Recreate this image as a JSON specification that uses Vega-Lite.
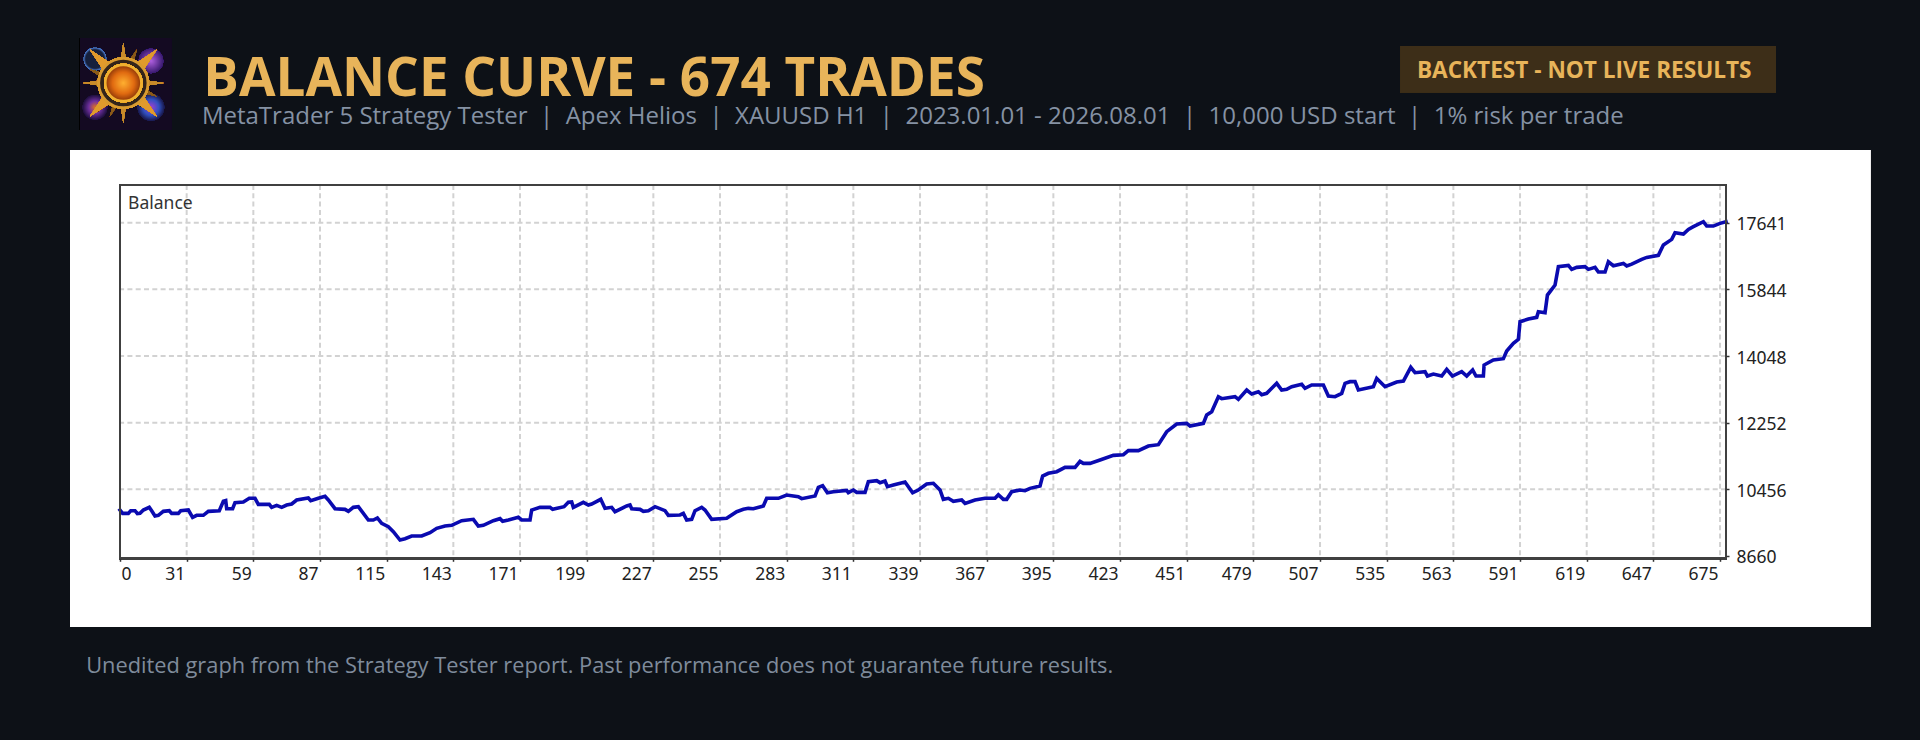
{
  "$schema": "https://vega.github.io/schema/vega-lite/v6.json",
  "width": 1606,
  "height": 373.3,
  "autosize": "none",
  "padding": {"left": 120, "top": 185, "right": 194, "bottom": 181.7},
  "background": "#0d1117",
  "config": {
    "axis": {
      "title": null,
      "grid": false,
      "domain": false,
      "format": "d",
      "labelOverlap": false,
      "labelBound": false,
      "labelFlush": false,
      "labelFont": "Noto Sans",
      "labelFontSize": 17.5,
      "labelColor": "#222222",
      "tickColor": "#333333",
      "tickSize": 3,
      "tickWidth": 1.5
    }
  },
  "datasets": {
    "balance": [
      {"trade":3,"balance":9899},{"trade":4.1,"balance":9809},{"trade":6.5,"balance":9809},{"trade":7.5,"balance":9881},{"trade":9.3,"balance":9881},{"trade":10.3,"balance":9800},{"trade":11.4,"balance":9809},{"trade":12.8,"balance":9899},{"trade":15.3,"balance":9971},{"trade":16.3,"balance":9881},{"trade":17.7,"balance":9738},{"trade":19.1,"balance":9756},{"trade":21.2,"balance":9863},{"trade":23.7,"balance":9881},{"trade":24.7,"balance":9809},{"trade":27.5,"balance":9809},{"trade":28.5,"balance":9881},{"trade":31.7,"balance":9899},{"trade":33.5,"balance":9702},{"trade":35.2,"balance":9756},{"trade":38,"balance":9756},{"trade":40.1,"balance":9863},{"trade":44.7,"balance":9881},{"trade":46.4,"balance":10133},{"trade":47.4,"balance":10151},{"trade":47.8,"balance":9935},{"trade":50.3,"balance":9935},{"trade":51.3,"balance":10097},{"trade":54.8,"balance":10115},{"trade":57.3,"balance":10214},{"trade":59.7,"balance":10214},{"trade":61.1,"balance":10052},{"trade":65.7,"balance":10052},{"trade":66.7,"balance":9971},{"trade":68.8,"balance":10025},{"trade":70.9,"balance":9971},{"trade":73,"balance":10034},{"trade":75.1,"balance":10061},{"trade":77.2,"balance":10169},{"trade":82.1,"balance":10223},{"trade":83.1,"balance":10151},{"trade":86.3,"balance":10214},{"trade":89.1,"balance":10267},{"trade":90.5,"balance":10169},{"trade":93.3,"balance":9935},{"trade":97.5,"balance":9917},{"trade":98.9,"balance":9863},{"trade":101,"balance":9971},{"trade":103.1,"balance":9989},{"trade":107.3,"balance":9630},{"trade":109.4,"balance":9630},{"trade":111.1,"balance":9684},{"trade":112.9,"balance":9540},{"trade":115.7,"balance":9450},{"trade":117.8,"balance":9316},{"trade":120.6,"balance":9091},{"trade":122.7,"balance":9127},{"trade":125.5,"balance":9199},{"trade":129.7,"balance":9199},{"trade":133.2,"balance":9289},{"trade":136,"balance":9405},{"trade":139.5,"balance":9468},{"trade":142.3,"balance":9486},{"trade":146.5,"balance":9612},{"trade":151.4,"balance":9648},{"trade":153.5,"balance":9468},{"trade":155.6,"balance":9486},{"trade":159.8,"balance":9612},{"trade":162.6,"balance":9666},{"trade":163.7,"balance":9594},{"trade":166.1,"balance":9630},{"trade":170.3,"balance":9702},{"trade":171.7,"balance":9630},{"trade":175.2,"balance":9630},{"trade":175.9,"balance":9899},{"trade":179.4,"balance":9971},
      {"trade":183.6,"balance":9971},{"trade":184.7,"balance":9917},{"trade":189.5,"balance":9989},{"trade":191.3,"balance":10106},{"trade":192.7,"balance":10115},{"trade":193.4,"balance":9971},{"trade":197.6,"balance":10106},{"trade":199.7,"balance":10034},{"trade":201.1,"balance":10061},{"trade":204.9,"balance":10187},{"trade":206.7,"balance":9944},{"trade":209.5,"balance":9971},{"trade":210.9,"balance":9854},{"trade":215.8,"balance":10007},{"trade":217.2,"balance":10034},{"trade":217.9,"balance":9935},{"trade":221.4,"balance":9917},{"trade":222.8,"balance":9863},{"trade":224.9,"balance":9881},{"trade":227.7,"balance":9989},{"trade":231.9,"balance":9881},{"trade":233.3,"balance":9756},{"trade":238.2,"balance":9765},{"trade":239.6,"balance":9809},{"trade":241,"balance":9630},{"trade":243.1,"balance":9648},{"trade":244.5,"balance":9881},{"trade":247.3,"balance":9971},{"trade":248.7,"balance":9899},{"trade":251.5,"balance":9648},{"trade":257.8,"balance":9675},{"trade":262,"balance":9854},{"trade":264.8,"balance":9917},{"trade":266.9,"balance":9944},{"trade":269,"balance":9935},{"trade":273.2,"balance":10007},{"trade":274.6,"balance":10214},{"trade":279.5,"balance":10214},{"trade":283,"balance":10303},{"trade":287.9,"balance":10258},{"trade":289.3,"balance":10205},{"trade":294.9,"balance":10276},{"trade":296.3,"balance":10510},{"trade":298.1,"balance":10555},{"trade":300.1,"balance":10366},{"trade":302.6,"balance":10393},{"trade":308.2,"balance":10429},{"trade":308.9,"balance":10366},{"trade":311,"balance":10438},{"trade":312.4,"balance":10375},{"trade":315.9,"balance":10375},{"trade":317.3,"balance":10663},{"trade":320.8,"balance":10689},{"trade":322.2,"balance":10636},{"trade":324.3,"balance":10681},{"trade":325.3,"balance":10528},{"trade":327.8,"balance":10573},{"trade":332.7,"balance":10654},{"trade":335.9,"balance":10366},{"trade":338.3,"balance":10438},{"trade":341.8,"balance":10600},{"trade":344.6,"balance":10618},{"trade":347.4,"balance":10438},{"trade":348.8,"balance":10187},{"trade":350.9,"balance":10214},{"trade":353,"balance":10133},{"trade":356.5,"balance":10169},{"trade":357.9,"balance":10079},{"trade":362.1,"balance":10169},{"trade":366.3,"balance":10214},{"trade":370.5,"balance":10214},{"trade":371.9,"balance":10312},{"trade":374,"balance":10187},{"trade":375.4,"balance":10187},{"trade":377.5,"balance":10393},
      {"trade":381,"balance":10438},{"trade":383.1,"balance":10420},{"trade":385.2,"balance":10483},{"trade":389.4,"balance":10546},{"trade":390.5,"balance":10815},{"trade":392.9,"balance":10887},{"trade":396.4,"balance":10932},{"trade":399.9,"balance":11049},{"trade":404.1,"balance":11049},{"trade":406.2,"balance":11210},{"trade":407.6,"balance":11156},{"trade":410.4,"balance":11156},{"trade":414.6,"balance":11246},{"trade":420.2,"balance":11372},{"trade":424.4,"balance":11390},{"trade":426.5,"balance":11498},{"trade":430.7,"balance":11498},{"trade":434.9,"balance":11623},{"trade":439.1,"balance":11659},{"trade":442.6,"balance":12010},{"trade":446.8,"balance":12216},{"trade":451,"balance":12234},{"trade":452.4,"balance":12162},{"trade":458,"balance":12234},{"trade":459.4,"balance":12459},{"trade":461.5,"balance":12548},{"trade":464.3,"balance":12952},{"trade":465.7,"balance":12899},{"trade":471.3,"balance":12952},{"trade":472.7,"balance":12881},{"trade":476.2,"balance":13132},{"trade":478.3,"balance":13024},{"trade":481.1,"balance":13087},{"trade":482.5,"balance":13006},{"trade":484.6,"balance":13042},{"trade":488.8,"balance":13312},{"trade":490.9,"balance":13132},{"trade":493,"balance":13150},{"trade":495.1,"balance":13222},{"trade":499.3,"balance":13285},{"trade":500.7,"balance":13177},{"trade":503.5,"balance":13267},{"trade":508.4,"balance":13267},{"trade":510.5,"balance":12970},{"trade":513.3,"balance":12952},{"trade":516.1,"balance":13042},{"trade":517.5,"balance":13312},{"trade":519.6,"balance":13357},{"trade":521.7,"balance":13357},{"trade":523.1,"balance":13132},{"trade":529.4,"balance":13222},{"trade":530.8,"balance":13446},{"trade":534.3,"balance":13222},{"trade":539.2,"balance":13348},{"trade":542,"balance":13375},{"trade":545.1,"balance":13743},{"trade":546.9,"balance":13599},{"trade":551.1,"balance":13626},{"trade":552.1,"balance":13509},{"trade":554.6,"balance":13563},{"trade":558.1,"balance":13509},{"trade":560.2,"balance":13689},{"trade":562.6,"balance":13509},{"trade":566.5,"balance":13626},{"trade":568.6,"balance":13509},{"trade":571.1,"balance":13671},{"trade":572.5,"balance":13509},{"trade":575.6,"balance":13509},{"trade":575.9,"balance":13806},{"trade":579.8,"balance":13940},{"trade":584,"balance":13976},{"trade":585.4,"balance":14183},{"trade":588.2,"balance":14389},{"trade":590.3,"balance":14497},
      {"trade":591,"balance":14973},{"trade":594.5,"balance":15045},{"trade":598,"balance":15090},{"trade":598.7,"balance":15242},{"trade":601.5,"balance":15215},{"trade":602.5,"balance":15691},{"trade":605.7,"balance":15961},{"trade":607.1,"balance":16455},{"trade":611.3,"balance":16491},{"trade":612.7,"balance":16383},{"trade":614.8,"balance":16437},{"trade":618.3,"balance":16455},{"trade":619.7,"balance":16383},{"trade":622.5,"balance":16437},{"trade":623.9,"balance":16311},{"trade":626.7,"balance":16311},{"trade":628.1,"balance":16589},{"trade":630.2,"balance":16482},{"trade":634.4,"balance":16544},{"trade":635.8,"balance":16473},{"trade":637.9,"balance":16526},{"trade":642.1,"balance":16652},{"trade":644.2,"balance":16706},{"trade":649.1,"balance":16760},{"trade":651.2,"balance":17038},{"trade":654.7,"balance":17191},{"trade":656.1,"balance":17371},{"trade":659.6,"balance":17335},{"trade":661.7,"balance":17460},{"trade":663.8,"balance":17532},{"trade":668,"balance":17667},{"trade":669.4,"balance":17550},{"trade":672.2,"balance":17550},{"trade":675,"balance":17622},{"trade":677.5,"balance":17667}
    ],
    "gridX": [{"t":31},{"t":59},{"t":87},{"t":115},{"t":143},{"t":171},{"t":199},{"t":227},{"t":255},{"t":283},{"t":311},{"t":339},{"t":367},{"t":395},{"t":423},{"t":451},{"t":479},{"t":507},{"t":535},{"t":563},{"t":591},{"t":619},{"t":647},{"t":675}],
    "gridY": [{"v":10456},{"v":12252},{"v":14048},{"v":15844},{"v":17641}]
  },
  "data": {"name": "balance"},
  "layer": [
    {
      "mark": {"type": "rect", "color": "#ffffff"},
      "encoding": {
        "x": {"datum": -18, "scale": {"domain": [3, 677.5]}},
        "x2": {"datum": 738},
        "y": {"datum": 19598, "scale": {"domain": [8598, 18656]}},
        "y2": {"datum": 6747}
      }
    },
    {
      "data": {"name": "gridX"},
      "mark": {"type": "rule", "color": "#d2d2d2", "strokeWidth": 2, "strokeDash": [5, 3.3]},
      "encoding": {
        "x": {"field": "t", "type": "quantitative", "scale": {"domain": [3, 677.5]}}
      }
    },
    {
      "data": {"name": "gridY"},
      "mark": {"type": "rule", "color": "#d2d2d2", "strokeWidth": 2, "strokeDash": [5, 3.3]},
      "encoding": {
        "y": {"field": "v", "type": "quantitative", "scale": {"domain": [8598, 18656]}}
      }
    },
    {
      "mark": {"type": "line", "color": "#0a0ab0", "strokeWidth": 3.6, "strokeJoin": "miter", "strokeCap": "square"},
      "encoding": {
        "x": {
          "field": "trade",
          "type": "quantitative",
          "scale": {"domain": [3, 677.5]},
          "axis": {
            "zindex": 1,
            "values": [3, 31, 59, 87, 115, 143, 171, 199, 227, 255, 283, 311, 339, 367, 395, 423, 451, 479, 507, 535, 563, 591, 619, 647, 675],
            "labelExpr": "datum.value == 3 ? '0' : datum.label",
            "labelAlign": {"condition": {"test": "datum.value == 3", "value": "left"}, "value": "right"},
            "labelOffset": {"condition": {"test": "datum.value == 3", "value": 1}, "value": -2},
            "labelPadding": 4
          }
        },
        "y": {
          "field": "balance",
          "type": "quantitative",
          "scale": {"domain": [8598, 18656]},
          "axis": {
            "zindex": 1,
            "orient": "right",
            "values": [8660, 10456, 12252, 14048, 15844, 17641],
            "labelPadding": 7,
            "labelOffset": 2
          }
        }
      }
    },
    {
      "mark": {"type": "rect", "filled": false, "stroke": "#404040", "strokeWidth": 2},
      "encoding": {
        "x": {"datum": 3, "scale": {"domain": [3, 677.5]}},
        "x2": {"datum": 677.5},
        "y": {"datum": 8598, "scale": {"domain": [8598, 18656]}},
        "y2": {"datum": 18656}
      }
    },
    {
      "data": {"values": [{"label": "Balance"}]},
      "mark": {"type": "text", "align": "left", "baseline": "alphabetic", "font": "Noto Sans", "fontSize": 17.5, "color": "#333333"},
      "encoding": {
        "text": {"field": "label"},
        "x": {"datum": 6.4, "scale": {"domain": [3, 677.5]}},
        "y": {"datum": 18000, "scale": {"domain": [8598, 18656]}}
      }
    },
    {
      "data": {"values": [{"label": "BALANCE CURVE - 674 TRADES"}]},
      "mark": {"type": "text", "align": "left", "baseline": "alphabetic", "font": "Open Sans", "fontWeight": 700, "fontSize": 53, "color": "#e8b45a"},
      "encoding": {
        "text": {"field": "label"},
        "x": {"datum": 38, "scale": {"domain": [3, 677.5]}},
        "y": {"datum": 21052, "scale": {"domain": [8598, 18656]}}
      }
    },
    {
      "data": {"values": [{"label": "MetaTrader 5 Strategy Tester\u00a0\u00a0|\u00a0\u00a0Apex Helios\u00a0\u00a0|\u00a0\u00a0XAUUSD H1\u00a0\u00a0|\u00a0\u00a02023.01.01 - 2026.08.01\u00a0\u00a0|\u00a0\u00a010,000 USD start\u00a0\u00a0|\u00a0\u00a01% risk per trade"}]},
      "mark": {"type": "text", "align": "left", "baseline": "alphabetic", "font": "Open Sans", "fontSize": 24, "color": "#8592a4"},
      "encoding": {
        "text": {"field": "label"},
        "x": {"datum": 37.4, "scale": {"domain": [3, 677.5]}},
        "y": {"datum": 20298, "scale": {"domain": [8598, 18656]}}
      }
    },
    {
      "data": {"values": [{"label": "Unedited graph from the Strategy Tester report. Past performance does not guarantee future results."}]},
      "mark": {"type": "text", "align": "left", "baseline": "alphabetic", "font": "Open Sans", "fontSize": 21.8, "color": "#7f8b9b"},
      "encoding": {
        "text": {"field": "label"},
        "x": {"datum": -11.2, "scale": {"domain": [3, 677.5]}},
        "y": {"datum": 5508, "scale": {"domain": [8598, 18656]}}
      }
    },
    {
      "mark": {"type": "rect", "color": "#3d2e18"},
      "encoding": {
        "x": {"datum": 540.6, "scale": {"domain": [3, 677.5]}},
        "x2": {"datum": 698.5},
        "y": {"datum": 22399, "scale": {"domain": [8598, 18656]}},
        "y2": {"datum": 21141}
      }
    },
    {
      "data": {"values": [{"label": "BACKTEST - NOT LIVE RESULTS"}]},
      "mark": {"type": "text", "align": "left", "baseline": "alphabetic", "font": "Open Sans", "fontWeight": 700, "fontSize": 22.6, "color": "#e8b45a"},
      "encoding": {
        "text": {"field": "label"},
        "x": {"datum": 547.7, "scale": {"domain": [3, 677.5]}},
        "y": {"datum": 21537, "scale": {"domain": [8598, 18656]}}
      }
    },
    {
      "mark": {"type": "rect", "color": "#140a22"},
      "encoding": {
        "x": {"datum": -13.8, "scale": {"domain": [3, 677.5]}},
        "x2": {"datum": 24.8},
        "y": {"datum": 22615, "scale": {"domain": [8598, 18656]}},
        "y2": {"datum": 20136}
      }
    },
    {
      "mark": {"type": "point", "shape": "circle", "filled": true, "opacity": 1, "fill": {"gradient": "radial", "stops": [{"offset": 0, "color": "#b060e0"}, {"offset": 1, "color": "#3a1a70"}]}, "size": 600},
      "encoding": {
        "x": {"datum": 16, "scale": {"domain": [3, 677.5]}},
        "y": {"datum": 22000, "scale": {"domain": [8598, 18656]}}
      }
    },
    {
      "mark": {"type": "point", "shape": "circle", "filled": true, "opacity": 1, "fill": {"gradient": "radial", "stops": [{"offset": 0, "color": "#a040d0"}, {"offset": 0.6, "color": "#3050c0"}, {"offset": 1, "color": "#1a1a50"}]}, "size": 700},
      "encoding": {
        "x": {"datum": 16, "scale": {"domain": [3, 677.5]}},
        "y": {"datum": 20750, "scale": {"domain": [8598, 18656]}}
      }
    },
    {
      "mark": {"type": "point", "shape": "circle", "filled": true, "opacity": 1, "fill": {"gradient": "radial", "stops": [{"offset": 0, "color": "#16203c"}, {"offset": 0.85, "color": "#16203c"}, {"offset": 1, "color": "#4a78c8"}]}, "size": 500},
      "encoding": {
        "x": {"datum": -7.5, "scale": {"domain": [3, 677.5]}},
        "y": {"datum": 22050, "scale": {"domain": [8598, 18656]}}
      }
    },
    {
      "mark": {"type": "point", "shape": "circle", "filled": true, "opacity": 1, "fill": {"gradient": "radial", "stops": [{"offset": 0, "color": "#e07020"}, {"offset": 0.5, "color": "#7030a0"}, {"offset": 1, "color": "#201040"}]}, "size": 600},
      "encoding": {
        "x": {"datum": -7.5, "scale": {"domain": [3, 677.5]}},
        "y": {"datum": 20750, "scale": {"domain": [8598, 18656]}}
      }
    },
    {
      "mark": {"type": "point", "filled": true, "opacity": 1, "color": "#8a5a18", "shape": "M0,-1 L.1,-.2 L1,0 L.2,.1 L0,1 L-.1,.2 L-1,0 L-.2,-.1 Z", "size": 5200, "angle": 22},
      "encoding": {
        "x": {"datum": 4.4, "scale": {"domain": [3, 677.5]}},
        "y": {"datum": 21403, "scale": {"domain": [8598, 18656]}}
      }
    },
    {
      "mark": {"type": "point", "filled": true, "opacity": 1, "color": "#e09a2c", "shape": "M0,-1 L.17,-.17 L1,0 L.17,.17 L0,1 L-.17,.17 L-1,0 L-.17,-.17 Z", "size": 9000, "angle": 45},
      "encoding": {
        "x": {"datum": 4.4, "scale": {"domain": [3, 677.5]}},
        "y": {"datum": 21403, "scale": {"domain": [8598, 18656]}}
      }
    },
    {
      "mark": {"type": "point", "filled": true, "opacity": 1, "color": "#c88a2a", "shape": "M0,-1 L.13,-.13 L1,0 L.13,.13 L0,1 L-.13,.13 L-1,0 L-.13,-.13 Z", "size": 6500},
      "encoding": {
        "x": {"datum": 4.4, "scale": {"domain": [3, 677.5]}},
        "y": {"datum": 21403, "scale": {"domain": [8598, 18656]}}
      }
    },
    {
      "mark": {"type": "point", "shape": "circle", "filled": true, "opacity": 1, "color": "#33241a", "stroke": "#d89a30", "strokeWidth": 2.5, "size": 2400},
      "encoding": {
        "x": {"datum": 4.4, "scale": {"domain": [3, 677.5]}},
        "y": {"datum": 21403, "scale": {"domain": [8598, 18656]}}
      }
    },
    {
      "mark": {"type": "point", "shape": "circle", "filled": true, "opacity": 1, "fill": {"gradient": "radial", "stops": [{"offset": 0, "color": "#ffb030"}, {"offset": 0.6, "color": "#e06a10"}, {"offset": 1, "color": "#8a3408"}]}, "stroke": "#f0b030", "strokeWidth": 2.5, "size": 1300},
      "encoding": {
        "x": {"datum": 4.4, "scale": {"domain": [3, 677.5]}},
        "y": {"datum": 21403, "scale": {"domain": [8598, 18656]}}
      }
    }
  ]
}
